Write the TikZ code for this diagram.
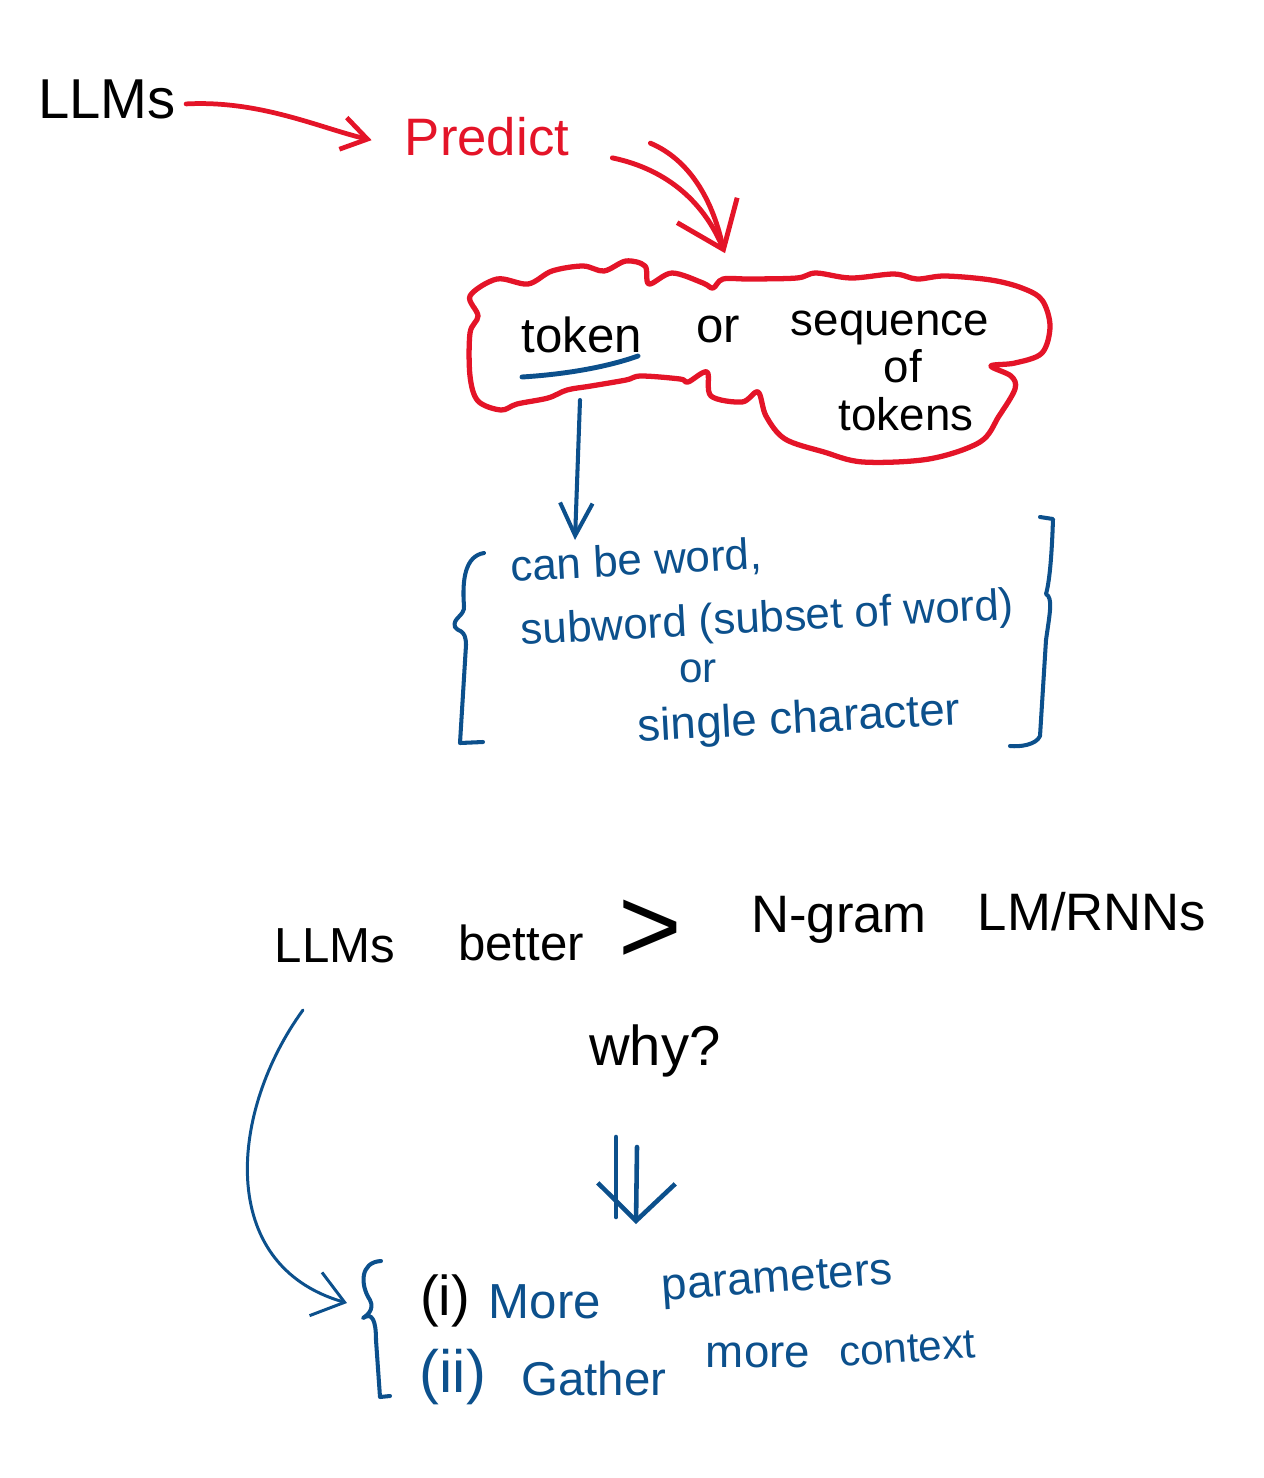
\documentclass[tikz,border=0pt]{standalone}
\usepackage{fontspec}
\setmainfont{Liberation Sans}
\usetikzlibrary{arrows.meta}
\definecolor{penred}{RGB}{228,20,40}
\definecolor{penblue}{RGB}{12,80,140}
\newcommand{\penfont}[1]{\fontsize{#1}{#1}\selectfont}

\begin{document}
\begin{tikzpicture}[
    x=0.02cm, y=-0.02cm,
    txt/.style={inner sep=0pt, anchor=base},
    note/.style={txt, text=penblue},
    pen/.style={line cap=round, line join=round},
    redarr/.style={pen, draw=penred, line width=2.7pt, -{Straight Barb[length=0.5cm, width=0.65cm]}},
    bigarr/.style={pen, draw=penred, line width=2.8pt, -{Straight Barb[length=0.85cm, width=1.3cm]}},
    cloudline/.style={pen, draw=penred, line width=3pt},
    blueline/.style={pen, draw=penblue, line width=2.3pt},
    bluearr/.style={blueline, -{Straight Barb[length=0.65cm, width=0.65cm]}},
    thinarr/.style={pen, draw=penblue, line width=1.7pt, -{Straight Barb[length=0.6cm, width=0.9cm]}},
    dblarr/.style={blueline, line width=2.6pt}
  ]
  \useasboundingbox (0,0) rectangle (1264,1478);

  % top: LLMs -> Predict
  \node[txt, font=\penfont{32}] (llmtop) at (107,118) {LLMs};
  \node[txt, text=penred, font=\penfont{30}] (predict) at (487,155) {Predict};

  % cloud
  \node[minimum width=11.7cm, minimum height=4.1cm, inner sep=0pt] (cloud) at (760,360) {};
  \draw[cloudline] plot[smooth cycle, tension=0.55] coordinates {
    (470,296) (497,279) (528,284) (552,271) (583,266) (604,271) (626,261)
    (645,266) (649,284) (672,273) (703,283) (713,288) (723,279) (750,279)
    (797,278) (816,273) (851,278) (894,274) (917,279) (945,276) (991,280)
    (1022,288) (1042,300) (1050,326) (1042,353) (1015,363) (991,366)
    (1011,376) (1015,389) (999,416) (980,442) (929,459) (863,462) (824,452)
    (785,439) (766,416) (758,392) (742,402) (711,396) (707,372) (688,382)
    (680,379) (641,376) (626,380) (591,386) (567,390) (548,398) (517,404)
    (501,410) (478,401) (470,376) (470,333) (478,316)};
  \node[txt, font=\penfont{28}] (token) at (582,352) {token};
  \node[txt, font=\penfont{28}] (or) at (718,342) {or};
  \node[txt, font=\penfont{26}] (seq) at (890,335) {sequence};
  \node[txt, font=\penfont{26}] (of) at (903,382) {of};
  \node[txt, font=\penfont{26}] (tokens) at (906,430) {tokens};

  \draw[redarr] ([shift={(10,5)}]llmtop.east) .. controls (260,100) and (320,128) .. ([shift={(-33,4)}]predict.west);
  \draw[bigarr] ([shift={(43,2)}]predict.south east) .. controls (670,170) and (705,205) .. ([shift={(-35,-4)}]cloud.north);
  \draw[pen, draw=penred, line width=2.8pt] ([shift={(81,7)}]predict.east) .. controls (690,160) and (712,200) .. ([shift={(-38,-14)}]cloud.north);

  % token explained
  \draw[blueline, line width=2.8pt] ([shift={(-60,25)}]token.base) .. controls (570,374) and (610,366) .. ([shift={(56,4)}]token.base);
  \draw[bluearr] ([shift={(-2,48)}]token.base) -- ([shift={(-7,188)}]token.base);

  \node[note, font=\penfont{25}, rotate=3] (canbe) at (637,575) {can be word,};
  \node[note, font=\penfont{25}, rotate=3] (subword) at (768,632) {subword (subset of word)};
  \node[note, font=\penfont{24}] (or2) at (698,682) {or};
  \node[note, font=\penfont{26}, rotate=3] (single) at (800,733) {single character};

  \draw[blueline] (484,553) .. controls (465,556) and (462,580) .. (464,606)
    .. controls (465,616) and (452,618) .. (455,627) .. controls (457,632) and (466,628) .. (466,645)
    -- (460,743) -- (483,742);
  \draw[blueline] (1040,517) -- (1053,519) .. controls (1052,550) and (1050,580) .. (1046,594)
    .. controls (1053,598) and (1050,612) .. (1046,640) -- (1040,736)
    .. controls (1036,745) and (1020,747) .. (1010,746);

  % LLMs better than ...
  \node[txt, font=\penfont{28}] (llmmid) at (335,962) {LLMs};
  \node[txt, font=\penfont{28}] (better) at (521,960) {better};
  \node[inner sep=0pt, font=\penfont{62}] (gt) at (650,932) {>};
  \node[txt, font=\penfont{30}] (ngram) at (839,932) {N-gram};
  \node[txt, font=\penfont{30}] (lmrnn) at (1092,930) {LM/RNNs};
  \node[txt, font=\penfont{32}] (why) at (655,1065) {why?};

  % reasons
  \node[txt, font=\penfont{32}] (i1) at (445,1315) {(i)};
  \node[note, font=\penfont{28}] (more1) at (545,1318) {More};
  \node[note, font=\penfont{26}, rotate=4] (params) at (778,1292) {parameters};
  \node[note, font=\penfont{34}] (i2) at (453,1392) {(ii)};
  \node[note, font=\penfont{27}] (gather) at (594,1395) {Gather};
  \node[note, font=\penfont{26}] (more2) at (758,1367) {more};
  \node[note, font=\penfont{24}, rotate=4] (context) at (908,1362) {context};

  \draw[blueline] (381,1261) .. controls (360,1262) and (360,1285) .. (370,1300)
    .. controls (375,1310) and (366,1316) .. (363,1318) .. controls (372,1312) and (376,1320) .. (376,1340)
    -- (380,1397) -- (390,1396);

  \draw[thinarr] ([shift={(-32,48)}]llmmid.base) .. controls (230,1110) and (215,1265) .. ([shift={(-98,-12)}]i1.base);
  \draw[dblarr] ([shift={(-39,72)}]why.base) -- ([shift={(-39,152)}]why.base);
  \draw[dblarr, -{Straight Barb[length=0.75cm, width=1.55cm]}] ([shift={(-18,82)}]why.base) -- ([shift={(-19,159)}]why.base);
\end{tikzpicture}
\end{document}
